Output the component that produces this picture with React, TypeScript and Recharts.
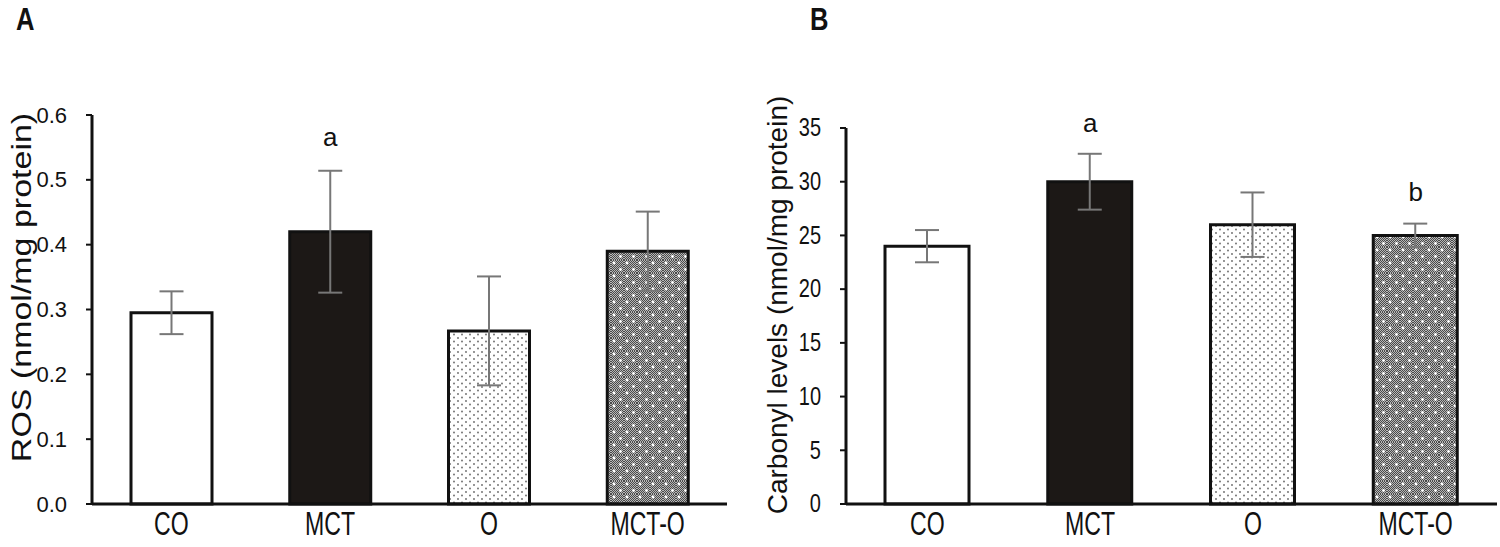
import React from 'react'
import {
  BarChart,
  Bar,
  Cell,
  XAxis,
  YAxis,
  ErrorBar,
  ReferenceDot,
} from 'recharts'

// groups on the x axis
const categories = ['CO', 'MCT', 'O', 'MCT-O']

// panel A: ROS
const rosMean = [0.295, 0.42, 0.267, 0.39]
const rosErr = [0.033, 0.094, 0.084, 0.061]
const rosTicks = [0, 0.1, 0.2, 0.3, 0.4, 0.5, 0.6]
const rosSig = [{ cat: 'MCT', y: 0.566, text: 'a' }]

// panel B: carbonyl levels
const carbonylMean = [24, 30, 26, 25]
const carbonylErr = [1.5, 2.6, 3.0, 1.1]
const carbonylTicks = [0, 5, 10, 15, 20, 25, 30, 35]
const carbonylSig = [
  { cat: 'MCT', y: 35.5, text: 'a' },
  { cat: 'MCT-O', y: 29.1, text: 'b' },
]

const rosData = categories.map((c, i) => ({ cat: c, mean: rosMean[i], err: rosErr[i] }))
const carbonylData = categories.map((c, i) => ({ cat: c, mean: carbonylMean[i], err: carbonylErr[i] }))

const SANS = '"Liberation Sans", Arial, sans-serif'

function Patterns({ id }: { id: string }) {
  return (
    <defs>
      <pattern id={`dots-${id}`} width="8" height="7" patternUnits="userSpaceOnUse">
        <rect width="8" height="7" fill="#fff" />
        <circle cx="2" cy="2" r="0.9" fill="#666" />
        <circle cx="6" cy="5.5" r="0.9" fill="#666" />
      </pattern>
      <pattern id={`check-${id}`} width="2" height="2" patternUnits="userSpaceOnUse">
        <rect width="2" height="2" fill="#b8b8b8" />
        <rect width="1" height="1" fill="#4a4a4a" />
        <rect x="1" y="1" width="1" height="1" fill="#4a4a4a" />
      </pattern>
      <pattern id={`grid-${id}`} width="13" height="13" patternUnits="userSpaceOnUse">
        <rect width="13" height="13" fill={`url(#check-${id})`} />
        <circle cx="3" cy="3" r="1.4" fill="#fff" />
        <circle cx="9.5" cy="9.5" r="1.4" fill="#fff" />
      </pattern>
    </defs>
  )
}

// rotated y axis title, squeezed a little across its height like the scan
function AxisTitle(props: any) {
  const { viewBox, text, tx, shiftY, size, squeeze } = props
  const vb = viewBox || { y: 0, height: 0 }
  const cy = vb.y + vb.height / 2 + shiftY
  return (
    <text
      x={0}
      y={0}
      transform={`translate(${tx}, ${cy}) rotate(-90) scale(1, ${squeeze})`}
      textAnchor="middle"
      dominantBaseline="central"
      fontFamily={SANS}
      fontSize={size}
      fill="#111"
    >
      {text}
    </text>
  )
}

function XTick(props: any) {
  const { x, y, payload } = props
  return (
    <text
      x={0}
      y={0}
      transform={`translate(${x}, ${y + 24}) scale(0.7, 1)`}
      textAnchor="middle"
      fontFamily={SANS}
      fontSize={33}
      fill="#111"
    >
      {payload.value}
    </text>
  )
}

function YTick(props: any) {
  const { x, y, payload, sx, size, fmt } = props
  return (
    <text
      x={0}
      y={0}
      transform={`translate(${x}, ${y}) scale(${sx}, 1)`}
      textAnchor="end"
      dominantBaseline="central"
      fontFamily={SANS}
      fontSize={size}
      fill="#111"
    >
      {fmt(payload.value)}
    </text>
  )
}

function Panel(props: any) {
  const { id, data, ticks, domain, sig, title, titleX, titleShift, titleSize, titleSqueeze, margin, width, barSize, tickSx, tickSize, fmt } = props
  const fills = ['#fff', '#1c1816', `url(#dots-${id})`, `url(#grid-${id})`]
  return (
    <BarChart width={width} height={547} data={data} margin={margin}>
      <Patterns id={id} />
      <XAxis
        dataKey="cat"
        height={40}
        tickLine={false}
        tickSize={0}
        tickMargin={7}
        axisLine={{ stroke: '#111', strokeWidth: 3 }}
        tick={<XTick />}
      />
      <YAxis
        width={70}
        domain={domain}
        ticks={ticks}
        interval={0}
        tickSize={6}
        tickMargin={19}
        axisLine={{ stroke: '#111', strokeWidth: 3 }}
        tickLine={{ stroke: '#111', strokeWidth: 2 }}
        tick={<YTick sx={tickSx} size={tickSize} fmt={fmt} />}
        label={<AxisTitle text={title} tx={titleX} shiftY={titleShift} size={titleSize} squeeze={titleSqueeze} />}
      />
      <Bar dataKey="mean" barSize={barSize} stroke="#111" strokeWidth={3} isAnimationActive={false}>
        {data.map((d: any, i: number) => (
          <Cell key={d.cat} fill={fills[i]} />
        ))}
        <ErrorBar dataKey="err" width={12} stroke="#777" strokeWidth={2} direction="y" />
      </Bar>
      {sig.map((s: any) => (
        <ReferenceDot
          key={s.cat}
          x={s.cat}
          y={s.y}
          r={0}
          ifOverflow="visible"
          label={{ value: s.text, position: 'center', fontSize: 26, fill: '#111', fontFamily: SANS }}
        />
      ))}
    </BarChart>
  )
}

export default function App() {
  return (
    <div style={{ position: 'absolute', left: 0, top: 0, width: 1500, height: 547, background: '#fff' }}>
      <div style={{ position: 'absolute', left: 0, top: 0 }}>
        <Panel
          id="a"
          width={740}
          data={rosData}
          ticks={rosTicks}
          domain={[0, 0.6]}
          sig={rosSig}
          title="ROS (nmol/mg protein)"
          titleX={22}
          titleShift={-22}
          titleSize={34}
          titleSqueeze={0.8}
          margin={{ top: 115, right: 13, bottom: 3, left: 22 }}
          barSize={81}
          tickSx={1}
          tickSize={22}
          fmt={(v: number) => v.toFixed(1)}
        />
      </div>
      <div style={{ position: 'absolute', left: 750, top: 0 }}>
        <Panel
          id="b"
          width={750}
          data={carbonylData}
          ticks={carbonylTicks}
          domain={[0, 35]}
          sig={carbonylSig}
          title="Carbonyl levels (nmol/mg protein)"
          titleX={27}
          titleShift={-11}
          titleSize={28}
          titleSqueeze={1}
          margin={{ top: 128, right: 3, bottom: 3, left: 26 }}
          barSize={84}
          tickSx={0.8}
          tickSize={25}
          fmt={(v: number) => String(v)}
        />
      </div>
      <div style={{ position: 'absolute', left: 16, top: 1, fontFamily: SANS, fontWeight: 'bold', fontSize: 32, lineHeight: '36px', color: '#111', transform: 'scaleX(0.8)', transformOrigin: 'left top' }}>A</div>
      <div style={{ position: 'absolute', left: 810, top: 1, fontFamily: SANS, fontWeight: 'bold', fontSize: 32, lineHeight: '36px', color: '#111', transform: 'scaleX(0.8)', transformOrigin: 'left top' }}>B</div>
    </div>
  )
}
